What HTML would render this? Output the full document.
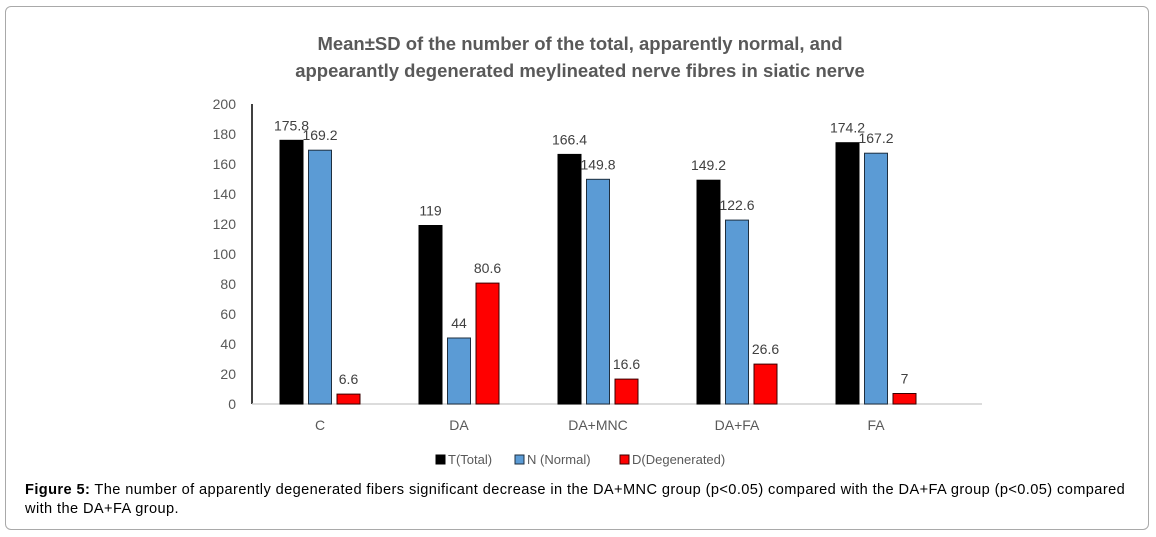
<!DOCTYPE html>
<html><head><meta charset="utf-8"><style>
body{margin:0;background:#fff;font-family:"Liberation Sans",Arial,sans-serif;}
#wrap{position:relative;width:1156px;height:537px;overflow:hidden;}
#frame{position:absolute;left:5px;top:6px;width:1144px;height:524px;border:1px solid #a9a9a9;border-radius:6px;box-sizing:border-box;}
#caption{position:absolute;left:25px;top:481px;width:1120px;font-size:14.6px;letter-spacing:0.4px;line-height:19px;color:#000;white-space:nowrap;}
</style></head><body>
<div id="wrap">
<div id="frame"></div>
<svg id="chart" width="1156" height="537" style="position:absolute;left:0;top:0">
<text x="580" y="50" text-anchor="middle" font-size="18.5" font-weight="bold" fill="#595959">Mean±SD of the number of the total, apparently normal, and</text>
<text x="580" y="77" text-anchor="middle" font-size="18.5" font-weight="bold" fill="#595959">appearantly degenerated meylineated nerve fibres in siatic nerve</text>
<g id="axes"></g><g id="bars"></g>
</svg>
<div id="caption"><b>Figure 5:</b> The number of apparently degenerated fibers significant decrease in the DA+MNC group (p&lt;0.05) compared with the DA+FA group (p&lt;0.05) compared<br>with the DA+FA group.</div>
</div>
<script>
const categories=["C","DA","DA+MNC","DA+FA","FA"];
const totalValues=[175.8,119,166.4,149.2,174.2];
const normalValues=[169.2,44,149.8,122.6,167.2];
const degenValues=[6.6,80.6,16.6,26.6,7];
const yTicks=[0,20,40,60,80,100,120,140,160,180,200];
const seriesNames=["T(Total)","N (Normal)","D(Degenerated)"];
const NS="http://www.w3.org/2000/svg";
const y0=404,yScale=1.5,yMax=200;
function y(v){return y0-v*yScale;}
function xc(i){return 320+i*139;}
function mk(tag,attrs,parent){const e=document.createElementNS(NS,tag);for(const k in attrs)e.setAttribute(k,attrs[k]);parent.appendChild(e);return e;}
const ax=document.getElementById('axes'),bg=document.getElementById('bars');
let l=mk('line',{x1:252,y1:y(yMax),x2:252,y2:y0,stroke:'#000','stroke-width':1.5},ax);


l=mk('line',{x1:252,y1:y0,x2:982,y2:y0,stroke:'#d0d0d0','stroke-width':1.5},ax);


yTicks.forEach(t=>{const e=mk('text',{x:236,y:y(t)+5,'text-anchor':'end','font-size':14,fill:'#595959'},ax);e.textContent=t;

});
categories.forEach((c,i)=>{const e=mk('text',{x:xc(i),y:430,'text-anchor':'middle','font-size':14,fill:'#595959'},ax);e.textContent=c;

});
const series=[[totalValues,'#000','#000',-28.5],[normalValues,'#5b9bd5','#1f2f3f',0],[degenValues,'#ff0000','#3a0000',28.5]];
series.forEach((s,si)=>{s[0].forEach((v,i)=>{const cx=xc(i)+s[3];
const r=mk('rect',{x:cx-11.5,y:y(v),width:23,height:v*yScale,fill:s[1],stroke:s[2],'stroke-width':1},bg);


const t=mk('text',{x:cx,y:y(v)-10,'text-anchor':'middle','font-size':14,fill:'#404040'},bg);t.textContent=v;

});});
const lx=[436,515,620];
seriesNames.forEach((n,i)=>{const g=mk('g',{},bg);


mk('rect',{x:lx[i],y:455,width:9,height:9,fill:series[i][1],stroke:series[i][2]},g);
const t=mk('text',{x:lx[i]+12,y:464,'font-size':13,fill:'#595959'},g);t.textContent=n;});
</script>
</body></html>
